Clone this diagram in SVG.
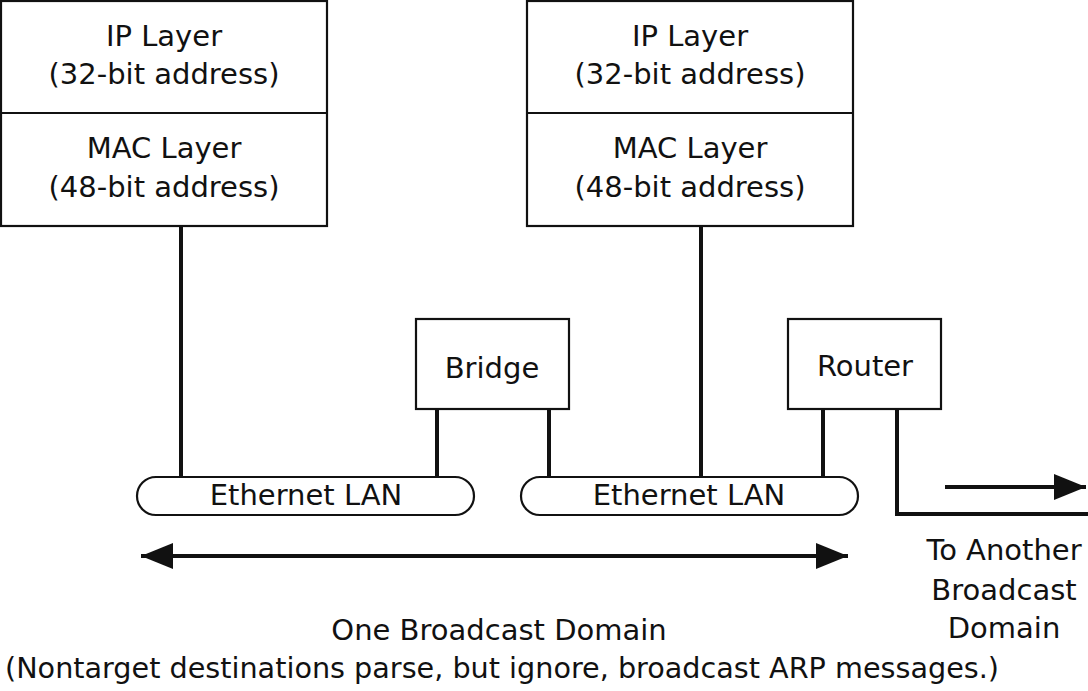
<svg xmlns="http://www.w3.org/2000/svg" width="1088" height="691" viewBox="0 0 1088 691">
<style>
text{font-family:"DejaVu Sans",sans-serif;font-size:29px;fill:#111;text-anchor:middle}
.box{fill:#fff;stroke:#111;stroke-width:2.2}
.leg{stroke:#111;stroke-width:4;fill:none}
</style>
<defs>
<marker id="ah" markerWidth="32" markerHeight="26" refX="32" refY="13" orient="auto-start-reverse" markerUnits="userSpaceOnUse">
<path d="M0,0 L32,13 L0,26 Z" fill="#111"/>
</marker>
</defs>
<rect width="1088" height="691" fill="#fff"/>
<g id="connectors">
<line class="leg" x1="181" y1="227" x2="181" y2="478"/>
<line class="leg" x1="701" y1="227" x2="701" y2="478"/>
<line class="leg" x1="437" y1="409" x2="437" y2="478"/>
<line class="leg" x1="549" y1="409" x2="549" y2="478"/>
<line class="leg" x1="823" y1="409" x2="823" y2="478"/>
<polyline class="leg" points="897,409 897,514 1088,514"/>
<line class="leg" x1="945" y1="487" x2="1086" y2="487" marker-end="url(#ah)"/>
<line class="leg" x1="141" y1="556" x2="848" y2="556" marker-start="url(#ah)" marker-end="url(#ah)"/>
</g>
<g id="host1">
<rect class="box" x="1" y="1" width="326" height="225"/>
<line class="box" x1="1" y1="113" x2="327" y2="113"/>
<text x="164" y="46">IP Layer</text>
<text x="164" y="84">(32-bit address)</text>
<text x="164" y="158">MAC Layer</text>
<text x="164" y="197">(48-bit address)</text>
</g>
<g id="host2">
<rect class="box" x="527" y="1" width="326" height="225"/>
<line class="box" x1="527" y1="113" x2="853" y2="113"/>
<text x="690" y="46">IP Layer</text>
<text x="690" y="84">(32-bit address)</text>
<text x="690" y="158">MAC Layer</text>
<text x="690" y="197">(48-bit address)</text>
</g>
<g id="bridge">
<rect class="box" x="416" y="319" width="153" height="90"/>
<text x="492" y="378">Bridge</text>
</g>
<g id="router">
<rect class="box" x="788" y="319" width="153" height="90"/>
<text x="865" y="376">Router</text>
</g>
<g id="lan1">
<rect class="box" x="137" y="477" width="337" height="38" rx="19" ry="19"/>
<text x="306" y="505">Ethernet LAN</text>
</g>
<g id="lan2">
<rect class="box" x="521" y="477" width="337" height="38" rx="19" ry="19"/>
<text x="689" y="505">Ethernet LAN</text>
</g>
<g id="labels">
<text x="1004" y="560">To Another</text>
<text x="1004" y="600">Broadcast</text>
<text x="1004" y="638">Domain</text>
<text x="499" y="640">One Broadcast Domain</text>
<text x="502" y="678" textLength="994" lengthAdjust="spacingAndGlyphs">(Nontarget destinations parse, but ignore, broadcast ARP messages.)</text>
</g>
</svg>
